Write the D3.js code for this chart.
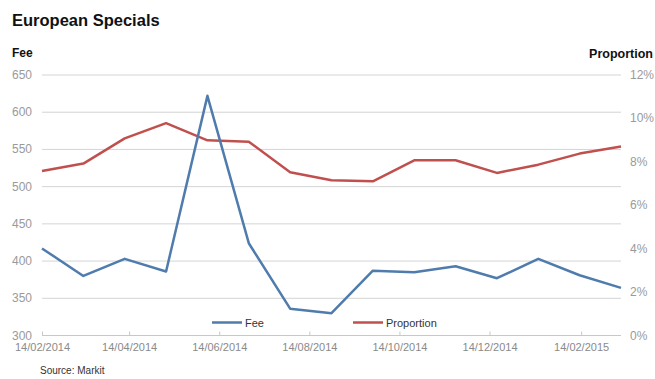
<!DOCTYPE html>
<html>
<head>
<meta charset="utf-8"/>
<title>European Specials</title>
<style>
  body { margin: 0; background: #fff; }
  svg { font-family: Arial, "Liberation Sans", sans-serif; }
</style>
</head>
<body>
<svg id="chart"></svg>
<script src="https://d3js.org/d3.v7.min.js"></script>
<script>
const width = 655;
const height = 379;

// four-weekly observations from 14/02/2014
const startDate = "2014-02-14";
const feeValues = [417, 380, 403, 386, 622, 424, 336, 330, 387, 385, 393, 377, 403, 381, 364];
const proportionValues = [7.58, 7.92, 9.08, 9.78, 8.99, 8.93, 7.52, 7.15, 7.10, 8.07, 8.07, 7.49, 7.87, 8.38, 8.71];
const feeTicks = [300, 350, 400, 450, 500, 550, 600, 650];
const propTicks = [0, 2, 4, 6, 8, 10, 12];
const xTickLabels = ["2014-02-14", "2014-04-14", "2014-06-14", "2014-08-14", "2014-10-14", "2014-12-14", "2015-02-14"];

const parse = d3.timeParse("%Y-%m-%d");
const fmt = d3.timeFormat("%d/%m/%Y");
const t0 = parse(startDate);
const dates = feeValues.map((d, i) => d3.timeDay.offset(t0, i * 28));

const plotLeft = 42, plotRight = 621, plotTop = 75, plotBottom = 335.5;

const svg = d3.select("#chart").attr("width", width).attr("height", height);

const x = d3.scaleTime().domain([dates[0], dates[dates.length - 1]]).range([plotLeft, plotRight]);
const yFee = d3.scaleLinear().domain([300, 650]).range([plotBottom, plotTop]);
const yProp = d3.scaleLinear().domain([0, 12]).range([plotBottom, plotTop]);

// gridlines
svg.append("g")
  .selectAll("line")
  .data(feeTicks.slice(1))
  .enter().append("line")
    .attr("x1", plotLeft).attr("x2", plotRight)
    .attr("y1", d => yFee(d)).attr("y2", d => yFee(d))
    .attr("stroke", "#d4d4d4").attr("stroke-width", 1);

// left axis labels
svg.append("g")
  .selectAll("text")
  .data(feeTicks)
  .enter().append("text")
    .attr("x", 32).attr("y", d => yFee(d) + 4)
    .attr("text-anchor", "end")
    .attr("fill", "#9a9a9a").style("font-size", "12px")
    .text(d => d);

// right axis labels
svg.append("g")
  .selectAll("text")
  .data(propTicks)
  .enter().append("text")
    .attr("x", 630).attr("y", d => yProp(d) + 4)
    .attr("text-anchor", "start")
    .attr("fill", "#9a9a9a").style("font-size", "12px")
    .text(d => d + "%");

// x axis
const xAxis = svg.append("g")
  .attr("transform", "translate(0," + plotBottom + ")")
  .call(d3.axisBottom(x)
    .tickValues(xTickLabels.map(parse))
    .tickFormat(fmt)
    .tickSize(-4)
    .tickPadding(8));
xAxis.select(".domain").attr("stroke", "#c8c8c8").attr("d", "M" + plotLeft + ",0H" + plotRight);
xAxis.selectAll(".tick line").attr("stroke", "#c8c8c8");
xAxis.selectAll(".tick text")
  .attr("fill", "#8a8a8a")
  .style("font-size", "11px")
  .style("font-family", "Arial, 'Liberation Sans', sans-serif");

// lines
const feeLine = d3.line().x((d, i) => x(dates[i])).y(d => yFee(d));
const propLine = d3.line().x((d, i) => x(dates[i])).y(d => yProp(d));

svg.append("path")
  .datum(proportionValues)
  .attr("d", propLine)
  .attr("fill", "none")
  .attr("stroke", "#c0504d")
  .attr("stroke-width", 2.5)
  .attr("stroke-linejoin", "round");

svg.append("path")
  .datum(feeValues)
  .attr("d", feeLine)
  .attr("fill", "none")
  .attr("stroke", "#4f7cac")
  .attr("stroke-width", 2.5)
  .attr("stroke-linejoin", "round");

// legend
const legend = [
  { name: "Fee", color: "#4f7cac", x: 212 },
  { name: "Proportion", color: "#c0504d", x: 353 }
];
const lg = svg.append("g").selectAll("g").data(legend).enter().append("g");
lg.append("line")
  .attr("x1", d => d.x).attr("x2", d => d.x + 30)
  .attr("y1", 322.5).attr("y2", 322.5)
  .attr("stroke", d => d.color).attr("stroke-width", 2.5);
lg.append("text")
  .attr("x", d => d.x + 33).attr("y", 326.5)
  .attr("fill", "#333").style("font-size", "11px")
  .text(d => d.name);

// titles
svg.append("text")
  .attr("x", 12).attr("y", 26)
  .style("font-size", "16.5px").style("font-weight", "bold")
  .attr("fill", "#111")
  .text("European Specials");

svg.append("text")
  .attr("x", 12).attr("y", 57)
  .style("font-size", "12px").style("font-weight", "bold")
  .attr("fill", "#111")
  .text("Fee");

svg.append("text")
  .attr("x", 653).attr("y", 58)
  .attr("text-anchor", "end")
  .style("font-size", "12.5px").style("font-weight", "bold")
  .attr("fill", "#111")
  .text("Proportion");

svg.append("text")
  .attr("x", 40).attr("y", 374)
  .style("font-size", "10px")
  .attr("fill", "#333")
  .text("Source: Markit");
</script>
</body>
</html>
